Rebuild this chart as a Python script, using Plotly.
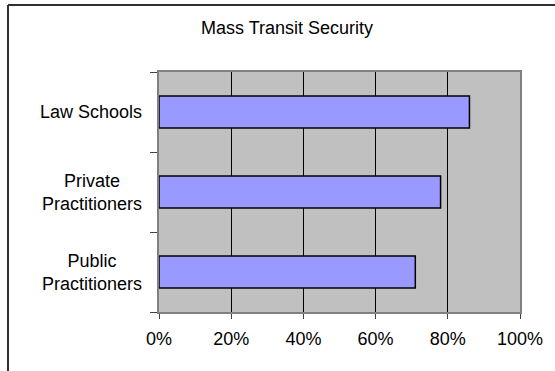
import plotly.graph_objects as go

categories = ["Public<br>Practitioners", "Private<br>Practitioners", "Law Schools"]
values = [0.71, 0.78, 0.86]
x_ticks = [0, 0.2, 0.4, 0.6, 0.8, 1.0]
x_tick_labels = ["0%", "20%", "40%", "60%", "80%", "100%"]
title_text = "Mass Transit Security"

W, H = 555, 371
L, R, T, B = 159, 35, 72, 59
FONT = "Liberation Sans, Arial, sans-serif"
FS = 18

fig = go.Figure()
fig.add_trace(go.Bar(
    y=categories, x=values, orientation="h",
    marker=dict(color="#9999FF", line=dict(color="#000000", width=1.5)),
    width=0.4, showlegend=False, hoverinfo="skip",
))

pw = W - L - R
ph = H - T - B

fig.update_layout(
    width=W, height=H,
    margin=dict(l=L, r=R, t=T, b=B, autoexpand=False),
    paper_bgcolor="white",
    plot_bgcolor="#C0C0C0",
    font=dict(family=FONT, size=FS, color="#000000"),
    title=dict(text=title_text, x=287 / W, xanchor="center", y=1 - 28 / H,
               yanchor="middle", font=dict(family=FONT, size=FS, color="#000000")),
    xaxis=dict(range=[0, 1.0], tickvals=x_ticks, ticktext=x_tick_labels,
               showgrid=True, gridcolor="#000000", gridwidth=1,
               showline=True, linecolor="#808080", linewidth=1.5, mirror=True,
               ticks="outside", ticklen=5, tickcolor="#404040",
               ticklabelstandoff=5, zeroline=False,
               tickfont=dict(family=FONT, size=FS)),
    yaxis=dict(type="category", categoryorder="array", categoryarray=categories,
               tickson="boundaries", ticks="outside", ticklen=7, tickcolor="#404040",
               showticklabels=False, showgrid=False,
               showline=True, linecolor="#808080", linewidth=1.5, mirror=True,
               range=[-0.5, 2.5]),
    bargap=0.6,
)

for c in categories:
    fig.add_annotation(x=-(15) / pw, xref="paper", xanchor="right", y=c, yref="y",
                       text=c, showarrow=False, align="center",
                       font=dict(family=FONT, size=FS, color="#000000"))

# outer chart frame (left and top edges)
fx0 = (8 - L) / pw
fy_top = (ph + T - 5) / ph
fig.add_shape(type="line", xref="paper", yref="paper", x0=fx0, x1=fx0,
              y0=fy_top, y1=-0.3, line=dict(color="#303030", width=2))
fig.add_shape(type="line", xref="paper", yref="paper", x0=fx0, x1=1.2,
              y0=fy_top, y1=fy_top, line=dict(color="#303030", width=2))

fig.write_html("out.html", config={"displayModeBar": False},
               post_script="document.body.style.margin='0';document.body.style.overflow='hidden';")
